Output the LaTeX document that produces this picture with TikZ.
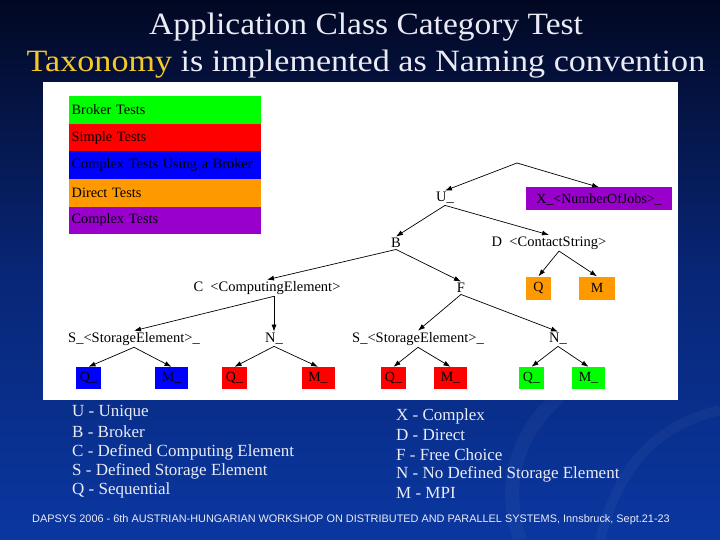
\documentclass[tikz,border=0pt]{standalone}
\usepackage{fontspec}
\setmainfont{Liberation Serif}
\newfontfamily\footfont{Liberation Sans}
\usetikzlibrary{arrows.meta,calc}
\definecolor{cgreen}{RGB}{0,255,0}
\definecolor{cred}{RGB}{255,0,0}
\definecolor{cblue}{RGB}{0,0,255}
\definecolor{corange}{RGB}{255,153,0}
\definecolor{cpurple}{RGB}{153,0,204}
\definecolor{bgtop}{RGB}{2,8,35}
\definecolor{bgmid}{RGB}{8,38,118}
\definecolor{bgbot}{RGB}{10,55,160}
\definecolor{titlecol}{RGB}{235,235,245}
\definecolor{gold}{RGB}{245,200,40}
\begin{document}
\begin{tikzpicture}[x=1pt,y=-1pt,
  lbl/.style={inner sep=1.5pt, font=\fontsize{14.5}{16}\selectfont},
  box/.style={inner sep=1pt, minimum height=23pt, font=\fontsize{14}{16}\selectfont},
  legband/.style={minimum width=192pt, minimum height=27.6pt, inner sep=2.5pt, text width=187pt, align=left, font=\fontsize{14.3}{16}\selectfont, anchor=north west},
  edge/.style={-{Latex[length=7pt,width=5pt]}, line width=0.7pt},
  keytext/.style={anchor=west, text=titlecol, font=\fontsize{17}{19}\selectfont, inner sep=0pt}]
\shade[top color=bgtop, bottom color=bgbot, middle color=bgmid] (0pt,0pt) rectangle (720pt,-540pt);
\useasboundingbox (0,0) rectangle (720,540);
% faint background swooshes
\draw[white, opacity=0.035, line width=14pt] (560,396) .. controls (520,430) and (500,480) .. (520,540);
\draw[white, opacity=0.035, line width=10pt] (720,410) .. controls (660,425) and (620,460) .. (600,540);
% title
\node[text=titlecol, font=\fontsize{31}{33}\selectfont, inner sep=0pt] (t1) at (366,27) {\scalebox{1.08}[1]{Application Class Category Test}};
\node[text=titlecol, font=\fontsize{31}{33}\selectfont, inner sep=0pt] (t2) at (366,64) {\scalebox{1.1}[1]{\textcolor{gold}{Taxonomy} is implemented as Naming convention}};
% panel
\fill[white] (43,82) rectangle (678,400);
% legend bands
\node[legband, fill=cgreen] (l1) at (69,96) {Broker Tests};
\node[legband, fill=cred] (l2) at (69,123.6) {Simple Tests};
\node[legband, fill=cblue] (l3) at (69,151.2) {Complex Tests Using a Broker};
\node[legband, fill=corange] (l4) at (69,178.8) {Direct Tests};
\node[legband, fill=cpurple] (l5) at (69,206.4) {Complex Tests};
% tree
\coordinate (root) at (517,163);
\node[lbl] (U) at (445,198) {U\_};
\node[box, fill=cpurple, minimum width=146pt] (X) at (599,199) {X\_<NumberOfJobs>\_};
\node[lbl] (B) at (396,243) {B};
\node[lbl] (D) at (549,243) {D~~<ContactString>};
\node[lbl] (C) at (267,288) {C~~<ComputingElement>};
\node[lbl] (F) at (461,288) {F};
\node[box, fill=corange, minimum width=25pt] (DQ) at (538.5,288) {Q};
\node[box, fill=corange, minimum width=36pt] (DM) at (597,288) {M};
\node[lbl] (S1) at (134,339) {S\_<StorageElement>\_};
\node[lbl] (N1) at (274,339) {N\_};
\node[lbl] (S2) at (418,339) {S\_<StorageElement>\_};
\node[lbl] (N2) at (558,339) {N\_};
\node[box, fill=cblue, minimum width=25pt, minimum height=22pt] (Q1) at (88.5,378) {Q\_};
\node[box, fill=cblue, minimum width=33pt, minimum height=22pt] (M1) at (171.5,378) {M\_};
\node[box, fill=cred, minimum width=25pt, minimum height=22pt] (Q2) at (234.5,378) {Q\_};
\node[box, fill=cred, minimum width=33pt, minimum height=22pt] (M2) at (318,378) {M\_};
\node[box, fill=cred, minimum width=25pt, minimum height=22pt] (Q3) at (393.5,378) {Q\_};
\node[box, fill=cred, minimum width=33pt, minimum height=22pt] (M3) at (450.5,378) {M\_};
\node[box, fill=cgreen, minimum width=25pt, minimum height=22pt] (Q4) at (531.5,378) {Q\_};
\node[box, fill=cgreen, minimum width=33pt, minimum height=22pt] (M4) at (588.5,378) {M\_};
% edges
\draw[edge] (root) -- (U.north);
\draw[edge] (root) -- (X.north);
\draw[edge] (U.south) -- (B.north);
\draw[edge] (U.south) -- (D.north);
\draw[edge] (B.south) -- (C.north);
\draw[edge] (B.south) -- (F.north);
\draw[edge] ($(D.south)+(10,0)$) -- (DQ.north);
\draw[edge] ($(D.south)+(10,0)$) -- (DM.north);
\draw[edge] (C.south -| N1) -- (S1.north);
\draw[edge] (C.south -| N1) -- (N1.north);
\draw[edge] (F.south) -- (S2.north);
\draw[edge] (F.south) -- (N2.north);
\draw[edge] (S1.south) -- (Q1.north);
\draw[edge] (S1.south) -- (M1.north);
\draw[edge] (N1.south) -- (Q2.north);
\draw[edge] (N1.south) -- (M2.north);
\draw[edge] (S2.south) -- (Q3.north);
\draw[edge] (S2.south) -- (M3.north);
\draw[edge] (N2.south) -- (Q4.north);
\draw[edge] (N2.south) -- (M4.north);
% key
\node[keytext] (k1) at (72,413) {U - Unique};
\node[keytext] (k2) at (72,432) {B - Broker};
\node[keytext] (k3) at (72,452) {C - Defined Computing Element};
\node[keytext] (k4) at (72,471) {S - Defined Storage Element};
\node[keytext] (k5) at (72,490) {Q - Sequential};
\node[keytext] (k6) at (396,416) {X - Complex};
\node[keytext] (k7) at (396,435) {D - Direct};
\node[keytext] (k8) at (396,455) {F - Free Choice};
\node[keytext] (k9) at (396,474) {N - No Defined Storage Element};
\node[keytext] (k10) at (396,493) {M - MPI};
% footer
\node[text=titlecol, font=\footfont\fontsize{10.9}{12}\selectfont, inner sep=0pt] (foot) at (351,520) {DAPSYS 2006 - 6th AUSTRIAN-HUNGARIAN WORKSHOP ON DISTRIBUTED AND PARALLEL SYSTEMS, Innsbruck, Sept.21-23};
\end{tikzpicture}
\end{document}
